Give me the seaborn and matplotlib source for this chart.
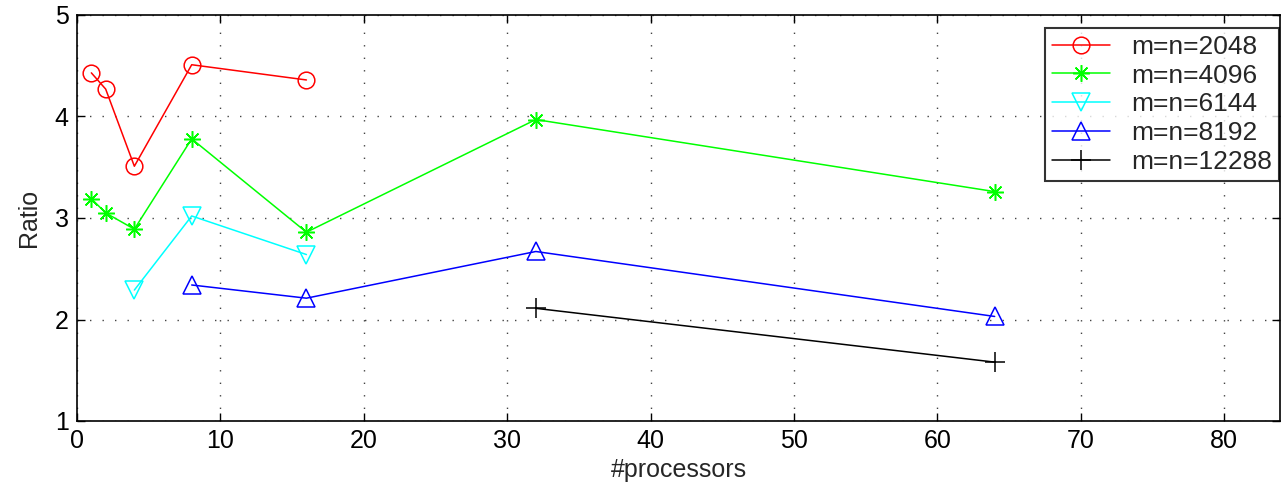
import matplotlib
matplotlib.use("Agg")
import matplotlib.pyplot as plt
import seaborn as sns
import pandas as pd

labels = ["m=n=2048", "m=n=4096", "m=n=6144", "m=n=8192", "m=n=12288"]
x_2048 = [1, 2, 4, 8, 16]
y_2048 = [4.43, 4.27, 3.51, 4.51, 4.36]
x_4096 = [1, 2, 4, 8, 16, 32, 64]
y_4096 = [3.19, 3.05, 2.89, 3.78, 2.86, 3.97, 3.26]
x_6144 = [4, 8, 16]
y_6144 = [2.29, 3.02, 2.64]
x_8192 = [8, 16, 32, 64]
y_8192 = [2.34, 2.21, 2.67, 2.03]
x_12288 = [32, 64]
y_12288 = [2.11, 1.58]

xs = [x_2048, x_4096, x_6144, x_8192, x_12288]
ys = [y_2048, y_4096, y_6144, y_8192, y_12288]

sns.set_style("white")
plt.rcParams['font.family'] = ['Liberation Sans', 'DejaVu Sans']

fig = plt.figure(figsize=(12.81, 4.91), dpi=100)
ax = fig.add_axes([77/1281, 1 - 421/491, (1280 - 77)/1281, (421 - 15)/491])

colors = [(1, 0, 0), (0, 1, 0), (0, 1, 1), (0, 0, 1), (0, 0, 0)]
markers = ['o', (8, 2, 0), 'v', '^', '+']
msizes = [12, 12, 13, 13, 14]

for lab, x, y, c, m, ms in zip(labels, xs, ys, colors, markers, msizes):
    df = pd.DataFrame({"#processors": x, "Ratio": y})
    sns.lineplot(data=df, x="#processors", y="Ratio", ax=ax, color=c, marker=m,
                 markersize=ms, markerfacecolor='none', markeredgecolor=c,
                 markeredgewidth=1.1, linewidth=1.1, label=lab)

ax.set_xlim(0, 83.9)
ax.set_ylim(1, 5)
ax.set_xticks(range(0, 81, 10))
ax.set_yticks([1, 2, 3, 4, 5])
ax.grid(True, color='#444444', linestyle=(0, (1, 8)), linewidth=1.0)
ax.tick_params(direction='in', length=6, width=1, labelsize=18, colors='black',
               top=True, right=True, bottom=True, left=True, pad=6)
for s in ax.spines.values():
    s.set_color('black')
    s.set_linewidth(1.2)
ax.set_xlabel("#processors", fontsize=18, labelpad=3)
ax.set_ylabel("Ratio", fontsize=18, labelpad=10)

leg = ax.legend(loc='upper right', bbox_to_anchor=(1.0, (421 - 27)/406),
                fontsize=19, frameon=True, fancybox=False, edgecolor='black',
                handlelength=2.2, borderpad=0.25, labelspacing=0.18, handletextpad=0.8,
                borderaxespad=0.05)
leg.get_frame().set_linewidth(1.5)

fig.savefig("out.png", dpi=100)
